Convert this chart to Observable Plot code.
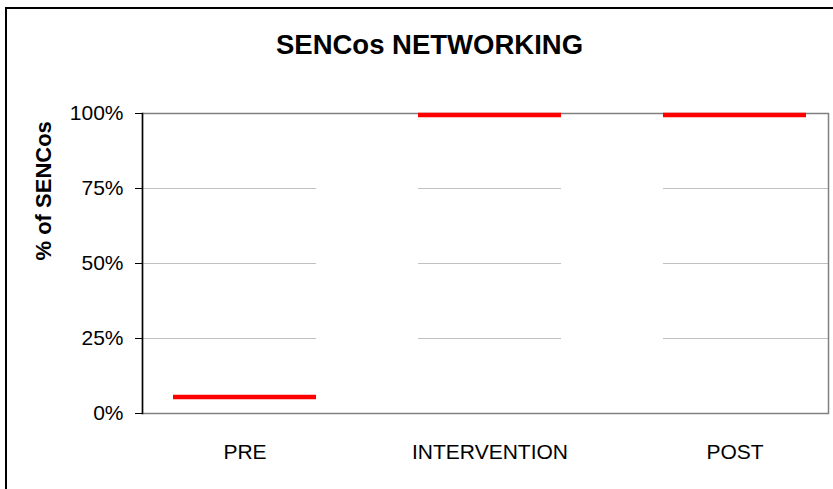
<!DOCTYPE html>
<html>
<head>
<meta charset="utf-8">
<script src="https://cdn.jsdelivr.net/npm/d3@7"></script>
<script src="https://cdn.jsdelivr.net/npm/@observablehq/plot@0.6"></script>
<style>
  html, body { margin: 0; padding: 0; background: #fff; overflow: hidden; }
  #wrap { position: relative; width: 833px; height: 489px; overflow: hidden; }
  #border { position: absolute; left: 5px; top: 7px; width: 1000px; height: 1000px;
            border: 2px solid #000; pointer-events: none; }
</style>
</head>
<body>
<div id="wrap"><div id="chart"></div><div id="border"></div></div>
<script>
const title = "SENCos NETWORKING";
const yLabel = "% of SENCos";
const categories = ["PRE", "INTERVENTION", "POST"];
const values = [6, 100, 100];
const yTicks = [0, 25, 50, 75, 100];
const gridTicks = [25, 50, 75];

const paddingInner = 0.415;
const data = categories.map((c, i) => ({category: c, value: values[i]}));

// white gaps between categories (hide gridlines there), derived from the band scale
function gaps(index, scales, channels, dimensions, context) {
  const x = scales.x, y = scales.y;
  const step = x(categories[1]) - x(categories[0]);
  const bw = (scales.scales && scales.scales.x && scales.scales.x.bandwidth) || x.bandwidth || step * (1 - paddingInner);
  const g = d3.create("svg:g");
  for (let i = 0; i < categories.length - 1; i++) {
    const x0 = x(categories[i]) + bw;
    const x1 = x(categories[i + 1]);
    g.append("rect")
      .attr("x", x0).attr("width", x1 - x0)
      .attr("y", y(100) + 1).attr("height", y(0) - y(100) - 2)
      .attr("fill", "#fff");
  }
  return g.node();
}

const chart = Plot.plot({
  width: 833,
  height: 489,
  marginLeft: 142,
  marginRight: 5,
  marginTop: 113,
  marginBottom: 76,
  style: {fontFamily: "'Liberation Sans', Arial, sans-serif", background: "#fff", color: "#000", overflow: "visible"},
  x: {type: "band", domain: categories, paddingInner, paddingOuter: 0.102, align: 0.58, axis: null},
  y: {domain: [0, 100], axis: null},
  marks: [
    Plot.ruleY(gridTicks, {stroke: "#c0c0c0", strokeWidth: 1}),
    gaps,
    Plot.frame({stroke: "#808080", strokeWidth: 1.5}),
    Plot.frame({anchor: "left", stroke: "#000", strokeWidth: 1.5}),
    Plot.tickY(data, {x: "category", y: "value", stroke: "#ff0000", strokeWidth: 4.5, dy: 1.5}),
    Plot.axisY({ticks: yTicks, tickFormat: d => d + "%", tickSize: 7, tickPadding: 12, fontSize: 21, label: null, stroke: "#000"}),
    Plot.axisX({tickSize: 0, tickPadding: 31, fontSize: 21, label: null}),
    Plot.text([yLabel], {frameAnchor: "left", rotate: -90, dx: -98.5, dy: -3, fontSize: 22, fontWeight: "bold", lineAnchor: "middle", fill: "#000"}),
    Plot.text([title], {frameAnchor: "top", dx: -56, dy: -68, fontSize: 27.5, fontWeight: "bold", lineAnchor: "middle", fill: "#000"})
  ]
});
document.getElementById("chart").appendChild(chart);
</script>
</body>
</html>
